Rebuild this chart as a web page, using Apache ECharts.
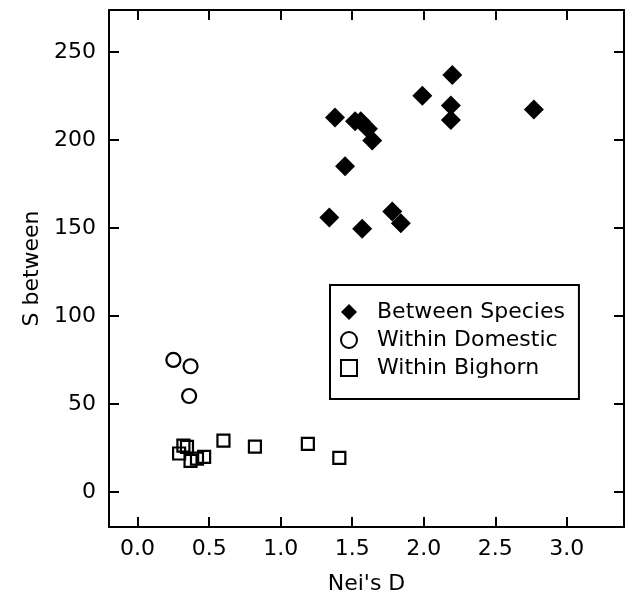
<!DOCTYPE html>
<html>
<head>
<meta charset="utf-8">
<script src="https://cdn.jsdelivr.net/npm/echarts@6/dist/echarts.min.js"></script>
<style>
html,body{margin:0;padding:0;background:#fff;}
#chart{width:631px;height:600px;}
</style>
</head>
<body>
<div id="chart"></div>
<script>
// Between Species
const betweenX = [1.99, 2.19, 2.77, 1.38, 2.19, 1.52, 1.56, 1.61, 1.64, 1.45, 1.34, 1.78, 1.84, 1.57, 2.20];
const betweenY = [225.3, 219.7, 217.4, 212.8, 211.4, 210.8, 210.8, 206.4, 199.8, 185.2, 156.0, 159.4, 152.8, 149.6, 237.1];
// Within Domestic
const domesticX = [0.25, 0.37, 0.36];
const domesticY = [75.0, 71.4, 54.5];
// Within Bighorn
const bighornX = [0.60, 0.82, 1.19, 1.41, 0.32, 0.345, 0.29, 0.37, 0.415, 0.465];
const bighornY = [29.1, 25.7, 27.3, 19.3, 26.3, 25.6, 21.8, 17.6, 18.9, 19.9];

const seriesNames = ['Between Species', 'Within Domestic', 'Within Bighorn'];
const xTicks = [0.0, 0.5, 1.0, 1.5, 2.0, 2.5, 3.0];
const yTicks = [0, 50, 100, 150, 200, 250];
const xName = "Nei's D";
const yName = 'S between';

function pairs(xs, ys) { return xs.map((x, i) => [x, ys[i]]); }

const FONT = 'DejaVu Sans';
const chart = echarts.init(document.getElementById('chart'), null, {renderer: 'canvas'});

const axisLine = {show: true, onZero: false, lineStyle: {color: '#000', width: 2}};
const tick = (vals) => ({show: true, inside: true, length: 10, lineStyle: {color: '#000', width: 2}, customValues: vals});

chart.setOption({
  animation: false,
  backgroundColor: '#fff',
  grid: {left: 109, right: 7, top: 10, bottom: 72},
  legend: {
    orient: 'vertical',
    left: 330,
    top: 285,
    padding: [16, 14, 20, 10],
    itemWidth: 16,
    itemHeight: 16,
    itemGap: 6,
    borderColor: '#000',
    borderWidth: 2,
    textStyle: {fontFamily: FONT, fontSize: 22, color: '#000', lineHeight: 22, padding: [0, 0, 0, 15]},
    data: seriesNames
  },
  xAxis: [{
    type: 'value', position: 'bottom', min: -0.2, max: 3.4,
    name: xName, nameLocation: 'middle', nameGap: 46,
    nameTextStyle: {fontFamily: FONT, fontSize: 22, color: '#000'},
    axisLine: axisLine,
    axisTick: tick(xTicks),
    axisLabel: {show: true, customValues: xTicks, margin: 11, fontFamily: FONT, fontSize: 22, color: '#000',
      formatter: v => v.toFixed(1)},
    splitLine: {show: false}
  }, {
    type: 'value', position: 'top', min: -0.2, max: 3.4,
    axisLine: axisLine,
    axisTick: tick(xTicks),
    axisLabel: {show: false},
    splitLine: {show: false}
  }],
  yAxis: [{
    type: 'value', position: 'left', min: -20, max: 274,
    name: yName, nameLocation: 'middle', nameGap: 64, nameRotate: 90,
    nameTextStyle: {fontFamily: FONT, fontSize: 22, color: '#000'},
    axisLine: axisLine,
    axisTick: tick(yTicks),
    axisLabel: {show: true, customValues: yTicks, margin: 13, fontFamily: FONT, fontSize: 22, color: '#000'},
    splitLine: {show: false}
  }, {
    type: 'value', position: 'right', min: -20, max: 274,
    axisLine: axisLine,
    axisTick: tick(yTicks),
    axisLabel: {show: false},
    splitLine: {show: false}
  }],
  series: [{
    name: seriesNames[0], type: 'scatter', symbol: 'diamond', symbolSize: 20,
    itemStyle: {color: '#000', opacity: 1},
    data: pairs(betweenX, betweenY)
  }, {
    name: seriesNames[1], type: 'scatter', symbol: 'circle', symbolSize: 14,
    itemStyle: {color: 'rgba(255,255,255,0)', borderColor: '#000', borderWidth: 2.2, opacity: 1},
    data: pairs(domesticX, domesticY)
  }, {
    name: seriesNames[2], type: 'scatter', symbol: 'rect', symbolSize: 12,
    itemStyle: {color: 'rgba(255,255,255,0)', borderColor: '#000', borderWidth: 2.2, opacity: 1},
    data: pairs(bighornX, bighornY)
  }]
});
</script>
</body>
</html>
